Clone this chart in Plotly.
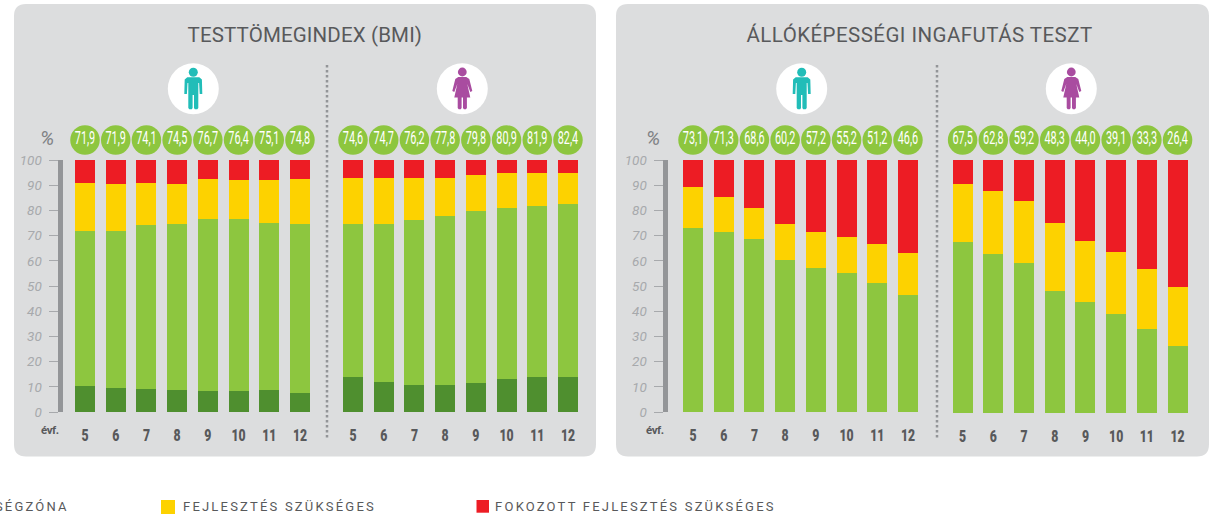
import plotly.graph_objects as go

W, H = 1216, 515

grades = ["5", "6", "7", "8", "9", "10", "11", "12"]

bmi_boys_zone = [71.9, 71.9, 74.1, 74.5, 76.7, 76.4, 75.1, 74.8]
bmi_boys_dark = [10.5, 9.7, 9.2, 8.9, 8.5, 8.2, 8.6, 7.4]
bmi_boys_yellow_top = [91.0, 90.5, 91.0, 90.5, 92.5, 92.2, 92.0, 92.5]

bmi_girls_zone = [74.6, 74.7, 76.2, 77.8, 79.8, 80.9, 81.9, 82.4]
bmi_girls_dark = [13.8, 12.0, 10.8, 10.8, 11.7, 13.0, 14.0, 14.0]
bmi_girls_yellow_top = [92.8, 92.8, 93.0, 93.0, 94.2, 94.8, 94.8, 95.0]

run_boys_zone = [73.1, 71.3, 68.6, 60.2, 57.2, 55.2, 51.2, 46.6]
run_boys_dark = [0, 0, 0, 0, 0, 0, 0, 0]
run_boys_yellow_top = [89.3, 85.3, 81.0, 74.8, 71.5, 69.5, 66.7, 63.0]

run_girls_zone = [67.5, 62.8, 59.2, 48.3, 44.0, 39.1, 33.3, 26.4]
run_girls_dark = [0, 0, 0, 0, 0, 0, 0, 0]
run_girls_yellow_top = [90.6, 87.8, 83.8, 75.0, 68.0, 63.5, 56.8, 50.0]

DARK, GREEN, YELLOW, RED = "#4f8f2f", "#8dc63f", "#fdd200", "#ed1c24"
GREY_TEXT, AXIS_GREY, TICK_LABEL = "#58595b", "#939598", "#a7a9ac"
PANEL = "#dcddde"
TEAL, PURPLE = "#21bdb8", "#a94ca0"
FONT = "Roboto"

STEP = 30.71
Y100_PX = 160


def px(x):
    return x / W


def py(y):
    return 1 - y / H


def path(points):
    return " ".join(f"{c} {px(x):.5f},{py(y):.5f}" for c, x, y in points) + " Z"


def panel_path(x0, y0, x1, y1, r=12):
    def pt(x, y):
        return f"{px(x):.5f},{py(y):.5f}"
    return (f"M {pt(x0 + r, y0)} L {pt(x1 - r, y0)} Q {pt(x1, y0)} {pt(x1, y0 + r)} "
            f"L {pt(x1, y1 - r)} Q {pt(x1, y1)} {pt(x1 - r, y1)} L {pt(x0 + r, y1)} "
            f"Q {pt(x0, y1)} {pt(x0, y1 - r)} L {pt(x0, y0 + r)} Q {pt(x0, y0)} {pt(x0 + r, y0)} Z")


def circle(cx, cy, r, color):
    return dict(type="circle", xref="paper", yref="paper", layer="below",
                x0=px(cx - r), x1=px(cx + r), y0=py(cy + r), y1=py(cy - r),
                fillcolor=color, line=dict(width=0))


def man(cx):
    offsets = [(-6, 77.3), (6, 77.3), (8.6, 79.5), (9, 94), (6.4, 94), (5.8, 83), (5, 83),
               (5, 108), (4, 109.3), (1.5, 109.3), (0.7, 108), (0.7, 95), (-0.7, 95), (-0.7, 108),
               (-1.5, 109.3), (-4, 109.3), (-5, 108), (-5, 83), (-5.8, 83), (-6.4, 94), (-9, 94),
               (-8.6, 79.5)]
    pts = [("M" if i == 0 else "L", cx + dx, y) for i, (dx, y) in enumerate(offsets)]
    return [circle(cx, 72.3, 4.5, TEAL),
            dict(type="path", xref="paper", yref="paper", layer="below", path=path(pts),
                 fillcolor=TEAL, line=dict(width=0))]


def woman(cx):
    offsets = [(-4, 77), (4, 77), (7, 79), (10, 91), (8, 92), (5, 84), (8, 97.5), (4.6, 97.5),
               (4.6, 108), (3.6, 109.3), (1.6, 109.3), (0.7, 108), (0.7, 97.5), (-0.7, 97.5), (-0.7, 108),
               (-1.6, 109.3), (-3.6, 109.3), (-4.6, 108), (-4.6, 97.5), (-8, 97.5), (-5, 84), (-8, 92),
               (-10, 91), (-7, 79)]
    pts = [("M" if i == 0 else "L", cx + dx, y) for i, (dx, y) in enumerate(offsets)]
    return [circle(cx, 72, 4.4, PURPLE),
            dict(type="path", xref="paper", yref="paper", layer="below", path=path(pts),
                 fillcolor=PURPLE, line=dict(width=0))]


fig = go.Figure()
axis_layout = {}
groups = [
    (85.0, bmi_boys_zone, bmi_boys_dark, bmi_boys_yellow_top, 59.5, 412),
    (353.0, bmi_girls_zone, bmi_girls_dark, bmi_girls_yellow_top, None, 412),
    (693.0, run_boys_zone, run_boys_dark, run_boys_yellow_top, 664.5, 412),
    (962.6, run_girls_zone, run_girls_dark, run_girls_yellow_top, None, 413),
]
for i, (first, zone, dark, ytop, axis_px, y0_px) in enumerate(groups, start=1):
    xn, yn, bn = f"x{i}", f"y{i}", f"y{i + 4}"
    green = [z - d for z, d in zip(zone, dark)]
    yellow = [t - z for t, z in zip(ytop, zone)]
    red = [100 - t for t in ytop]
    for name, vals, color in [("Alulsúlyos", dark, DARK), ("Egészségzóna", green, GREEN),
                              ("Fejlesztés szükséges", yellow, YELLOW),
                              ("Fokozott fejlesztés szükséges", red, RED)]:
        fig.add_trace(go.Bar(x=grades, y=vals, name=name, marker=dict(color=color, line=dict(width=0)),
                             xaxis=xn, yaxis=yn, showlegend=False))
    fig.add_trace(go.Scatter(
        x=grades, y=[0.5] * len(grades), mode="markers+text",
        marker=dict(size=29.5, color=GREEN, line=dict(width=0)),
        text=[f"{v:.1f}".replace(".", ",") for v in zone], textposition="middle center",
        textfont=dict(family=FONT, size=17.5, color="white"),
        cliponaxis=False, xaxis=xn, yaxis=bn, showlegend=False, hoverinfo="skip"))
    left = first - STEP / 2
    axis_layout["xaxis" if i == 1 else f"xaxis{i}"] = dict(
        domain=[px(left), px(left + STEP * 8)], type="category", anchor=yn, showgrid=False,
        range=[-0.5, 7.5], showline=False, zeroline=False, ticks="outside", ticklen=8,
        tickcolor="rgba(0,0,0,0)",
        tickfont=dict(family=FONT, size=17, color=GREY_TEXT, weight=900),
        categoryorder="array", categoryarray=grades, fixedrange=True)
    y_ax = dict(domain=[py(y0_px), py(Y100_PX)], range=[0, 100], anchor="free", showgrid=False,
                zeroline=False, fixedrange=True, showticklabels=axis_px is not None)
    if axis_px is not None:
        y_ax.update(position=px(axis_px), showline=True, linewidth=5, linecolor=AXIS_GREY, side="left",
                    tickmode="array", tickvals=list(range(0, 101, 10)), ticks="outside", ticklen=9,
                    tickwidth=1, tickcolor=TICK_LABEL, ticklabelstandoff=4,
                    tickfont=dict(family=FONT, size=13.5, color=TICK_LABEL, style="italic"))
    else:
        y_ax.update(position=px(left), showline=False, ticks="")
    axis_layout["yaxis" if i == 1 else f"yaxis{i}"] = y_ax
    axis_layout[f"yaxis{i + 4}"] = dict(domain=[py(154.5), py(125.5)], range=[0, 1], anchor=xn,
                                        visible=False, fixedrange=True)

shapes = [
    dict(type="path", xref="paper", yref="paper", layer="below", path=panel_path(14, 4, 596, 456.5),
         fillcolor=PANEL, line=dict(width=0)),
    dict(type="path", xref="paper", yref="paper", layer="below", path=panel_path(616, 4, 1209, 456.5),
         fillcolor=PANEL, line=dict(width=0)),
]
for x in (327, 937):
    shapes.append(dict(type="line", xref="paper", yref="paper", layer="below", x0=px(x), x1=px(x),
                       y0=py(65), y1=py(438), line=dict(color=AXIS_GREY, width=2.5, dash="2.5px 2.5px")))
for cx, fn in [(193.3, man), (462.3, woman), (801.7, man), (1071.3, woman)]:
    shapes.append(circle(cx, 88.7, 25.5, "white"))
    shapes.extend(fn(cx))
for x0, x1, y1, color in [(161, 175, 514, YELLOW), (476.5, 489, 512.7, RED)]:
    shapes.append(dict(type="rect", xref="paper", yref="paper", layer="below", x0=px(x0), x1=px(x1),
                       y0=py(y1), y1=py(500), fillcolor=color, line=dict(width=0)))


def note(x, y, text, size, color, family=FONT, **font):
    return dict(xref="paper", yref="paper", x=px(x), y=py(y), text=text, showarrow=False,
                xanchor="center", yanchor="middle",
                font=dict(family=family, size=size, color=color, **font))


annotations = [
    note(305, 34.5, "TESTTÖMEGINDEX (BMI)", 20.5, GREY_TEXT),
    note(919, 34.5, "ÁLLÓKÉPESSÉGI INGAFUTÁS TESZT", 20.5, GREY_TEXT),
    note(46.5, 138, "%", 20, "#808285", style="italic"),
    note(652.5, 138, "%", 20, "#808285", style="italic"),
    note(50, 430, "évf.", 11.5, GREY_TEXT, weight="bold"),
    note(655, 430, "évf.", 11.5, GREY_TEXT, weight="bold"),
    note(7, 506.5, "EGÉSZSÉGZÓNA", 13, GREY_TEXT),
    note(279.5, 506.5, "FEJLESZTÉS SZÜKSÉGES", 13, GREY_TEXT),
    note(635.5, 506.5, "FOKOZOTT FEJLESZTÉS SZÜKSÉGES", 13, GREY_TEXT),
]

fig.update_layout(
    width=W, height=H, autosize=False, margin=dict(l=0, r=0, t=0, b=0, autoexpand=False),
    paper_bgcolor="white", plot_bgcolor="rgba(0,0,0,0)", barmode="stack", bargap=0.35,
    showlegend=False, shapes=shapes, annotations=annotations, **axis_layout)

POST = """
document.body.style.margin='0';document.body.style.overflow='hidden';
var st=document.createElement('style');
st.textContent=".textpoint text{transform-box:fill-box;transform-origin:center;transform:scaleX(.62);}";
document.head.appendChild(st);
document.querySelectorAll('.annotation-text').forEach(function(t){
  var s=t.textContent;
  if(s.indexOf('ZÓNA')>=0||s.indexOf('FEJLESZT')>=0){t.style.letterSpacing='2.2px';}
  else if(s.indexOf('BMI')>=0){t.style.letterSpacing='0.15px';}
  else if(s.indexOf('INGA')>=0){t.style.letterSpacing='0.45px';}
  else if(s.indexOf('évf')>=0){t.style.letterSpacing='-0.5px';}
});
document.querySelectorAll('.xtick text,.x2tick text,.x3tick text,.x4tick text').forEach(function(t){
  t.setAttribute('transform',t.getAttribute('transform')+' scale(.72,1)');
});
"""
fig.write_html("out.html", post_script=POST, config=dict(displayModeBar=False))
